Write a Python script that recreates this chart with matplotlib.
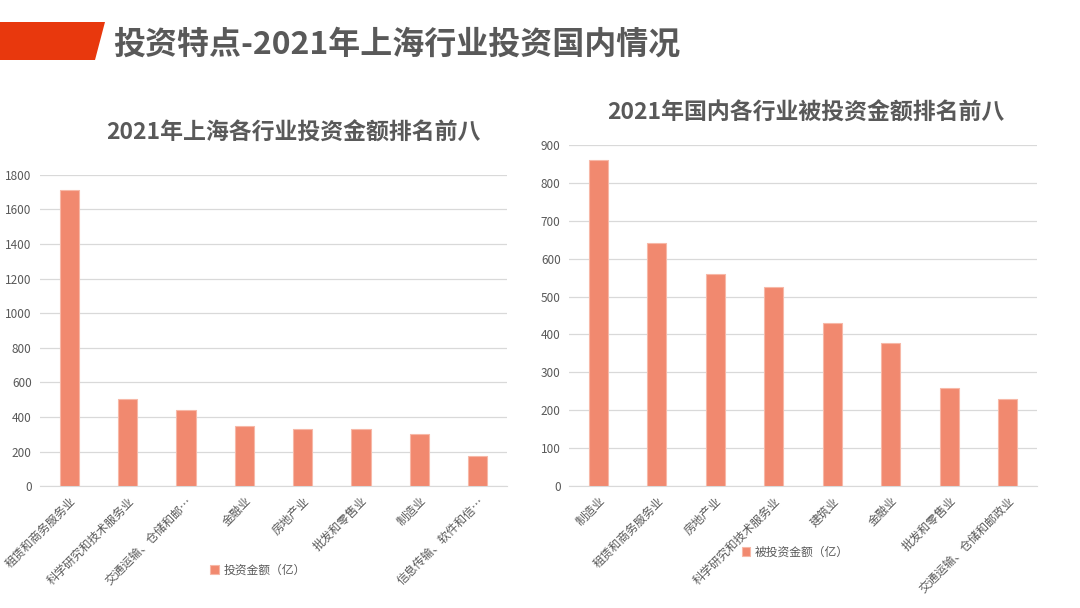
import matplotlib
matplotlib.use('Agg')
import matplotlib.pyplot as plt
from matplotlib.patches import Polygon
import numpy as np

plt.rcParams['font.family'] = ['Noto Sans CJK SC', 'DejaVu Sans']

# data
shCategories = ['租赁和商务服务业', '科学研究和技术服务业', '交通运输、仓储和邮…', '金融业',
                '房地产业', '批发和零售业', '制造业', '信息传输、软件和信…']
shValues = [1711, 502, 441, 346, 331, 331, 302, 175]
cnCategories = ['制造业', '租赁和商务服务业', '房地产业', '科学研究和技术服务业',
                '建筑业', '金融业', '批发和零售业', '交通运输、仓储和邮政业']
cnValues = [860, 642, 560, 525, 431, 378, 260, 229]

barColor = '#F1896F'
edgeColor = '#F7B8A7'
textGray = '#595959'
gridGray = '#D9D9D9'

fig = plt.figure(figsize=(10.8, 6.08), dpi=100)

# header band
fig.patches.append(Polygon([[0, 1 - 22/608], [105/1080, 1 - 22/608], [95/1080, 1 - 60/608], [0, 1 - 60/608]],
                           closed=True, transform=fig.transFigure, facecolor='#E8380D', edgecolor='none'))
fig.text(113/1080, 1 - 45/608, '投资特点-2021年上海行业投资国内情况', fontsize=23, fontweight='bold',
         color=textGray, va='center', ha='left')


def drawBars(rect, cats, vals, ymax, step, title, titlePos, legendLabel, legendPos):
  ax = fig.add_axes(rect)
  x = np.arange(len(cats))
  ax.bar(x, vals, width=0.33, color=barColor, edgecolor=edgeColor, linewidth=0.8,
         label=legendLabel, zorder=3)
  ax.set_xlim(-0.5, len(cats) - 0.5)
  ax.set_ylim(0, ymax)
  ax.set_yticks(np.arange(0, ymax + 1, step))
  ax.grid(axis='y', color=gridGray, linewidth=0.9, zorder=0)
  for s in ['top', 'right', 'left']:
    ax.spines[s].set_visible(False)
  ax.spines['bottom'].set_color(gridGray)
  ax.tick_params(axis='y', length=0, labelsize=8.5, labelcolor=textGray, pad=6)
  ax.tick_params(axis='x', length=0, labelsize=8.5, labelcolor=textGray, pad=6)
  ax.set_xticks(x)
  ax.set_xticklabels(cats, rotation=45, ha='right', rotation_mode='anchor')
  fig.text(titlePos[0], titlePos[1], title, fontsize=16.5, fontweight='bold',
           color=textGray, ha='center', va='center')
  fig.legend(handles=ax.containers[0][:1], labels=[legendLabel], loc='center',
             bbox_to_anchor=legendPos, frameon=False, fontsize=8.5, labelcolor=textGray,
             handlelength=0.7, handleheight=0.7, handletextpad=0.4)
  return ax


drawBars([40/1080, 1 - 486.3/608, 467/1080, 311.6/608], shCategories, shValues, 1800, 200,
         '2021年上海各行业投资金额排名前八', (293/1080, 1 - 133/608),
         '投资金额（亿）', (258/1080, 1 - 570/608))
drawBars([569/1080, 1 - 486.3/608, 468/1080, 341.6/608], cnCategories, cnValues, 900, 100,
         '2021年国内各行业被投资金额排名前八', (806/1080, 1 - 113/608),
         '被投资金额（亿）', (795/1080, 1 - 552/608))

fig.savefig('out.png', dpi=100)
